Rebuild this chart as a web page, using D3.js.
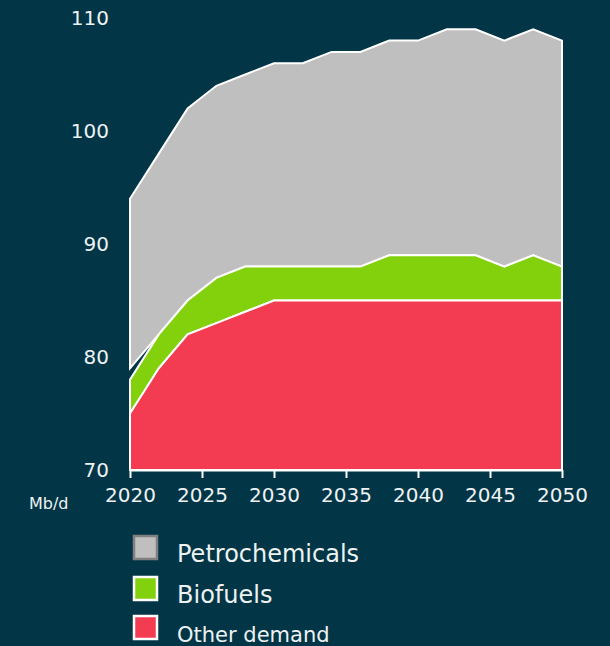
<!DOCTYPE html>
<html>
<head>
<meta charset="utf-8">
<script src="https://cdn.jsdelivr.net/npm/d3@7"></script>
<style>
  html, body { margin: 0; padding: 0; background: #023646; }
  svg { display: block; }
</style>
</head>
<body>
<div id="chart"></div>
<script>
// data (Mb/d), every 2 years
var years = [2020, 2022, 2024, 2026, 2028, 2030, 2032, 2034, 2036, 2038, 2040, 2042, 2044, 2046, 2048, 2050];
var otherDemand    = [75, 79, 82, 83, 84, 85, 85, 85, 85, 85, 85, 85, 85, 85, 85, 85];
var biofuels       = [3, 3, 3, 4, 4, 3, 3, 3, 3, 4, 4, 4, 4, 3, 4, 3];
var petrochemicals = [16, 16, 17, 17, 17, 18, 18, 19, 19, 19, 19, 20, 20, 20, 20, 20];
// petrochemicals band starts a little above biofuels in 2020 (gap in the source chart)
var petroGap       = [1, 0, 0, 0, 0, 0, 0, 0, 0, 0, 0, 0, 0, 0, 0, 0];
var seriesNames  = ["Other demand", "Biofuels", "Petrochemicals"];
var seriesColors = ["#f33c52", "#82d10c", "#bfbfbf"];
var yTicks = [70, 80, 90, 100, 110];
var xTicks = [2020, 2025, 2030, 2035, 2040, 2045, 2050];

var width = 610, height = 646;
var textColor = "#eef2f3";
var font = "DejaVu Sans, Verdana, sans-serif";

var svg = d3.select("#chart").append("svg")
    .attr("width", width)
    .attr("height", height);

var x = d3.scaleLinear().domain([2020, 2050]).range([130, 562]);
var y = d3.scaleLinear().domain([70, 110]).range([470, 18]);

var rows = years.map(function(yr, i) {
    return { year: yr, "Other demand": otherDemand[i] - 70, "Biofuels": biofuels[i], "Petrochemicals": petrochemicals[i] };
});

var layers = d3.stack().keys(seriesNames)(rows);

var area = d3.area()
    .x(function(d) { return x(d.data.year); })
    .y0(function(d) { return y(70 + d[0]); })
    .y1(function(d) { return y(70 + d[1]); });

// draw top layer first so lower ones sit over it
layers.slice().reverse().forEach(function(layer) {
    var i = seriesNames.indexOf(layer.key);
    var pts = layer;
    if (layer.key === "Petrochemicals") {
        pts = layer.map(function(d, j) {
            var p = [d[0] + petroGap[j], d[1]];
            p.data = d.data;
            return p;
        });
    }
    svg.append("path")
        .datum(pts)
        .attr("d", function(d) { return area(d) + "Z"; })
        .attr("fill", seriesColors[i])
        .attr("stroke", "white")
        .attr("stroke-width", 2)
        .attr("stroke-linejoin", "miter");
});

// y labels
svg.selectAll("text.ylab")
    .data(yTicks)
    .enter()
    .append("text")
    .attr("class", "ylab")
    .attr("x", 109)
    .attr("y", function(d) { return y(d); })
    .attr("dy", "0.36em")
    .attr("text-anchor", "end")
    .attr("font-family", font)
    .attr("font-size", "20px")
    .attr("fill", textColor)
    .text(function(d) { return d; });

// x axis
var xAxis = svg.append("g")
    .attr("transform", "translate(0,470)")
    .call(d3.axisBottom(x).tickValues(xTicks).tickFormat(d3.format("d")).tickSize(8).tickSizeOuter(0).tickPadding(10));
xAxis.select(".domain").attr("stroke", "white").attr("stroke-width", 2);
xAxis.selectAll(".tick line").attr("stroke", "white").attr("stroke-width", 2);
xAxis.selectAll(".tick text")
    .attr("fill", textColor)
    .attr("font-family", font)
    .attr("font-size", "20px");

svg.append("text")
    .attr("x", 29)
    .attr("y", 509)
    .attr("font-family", font)
    .attr("font-size", "16px")
    .attr("fill", textColor)
    .text("Mb/d");

// legend
var legendItems = [
    { name: "Petrochemicals", fill: seriesColors[2], stroke: "#808080", size: 24, base: 562 },
    { name: "Biofuels", fill: seriesColors[1], stroke: "white", size: 24, base: 603 },
    { name: "Other demand", fill: seriesColors[0], stroke: "white", size: 21, base: 642 }
];
var lg = svg.selectAll("g.legend")
    .data(legendItems)
    .enter()
    .append("g")
    .attr("class", "legend");
lg.append("rect")
    .attr("x", 134)
    .attr("y", function(d) { return d.base - 26; })
    .attr("width", 23)
    .attr("height", 23)
    .attr("fill", function(d) { return d.fill; })
    .attr("stroke", function(d) { return d.stroke; })
    .attr("stroke-width", 2.5);
lg.append("text")
    .attr("x", 177)
    .attr("y", function(d) { return d.base; })
    .attr("font-family", font)
    .attr("font-size", function(d) { return d.size + "px"; })
    .attr("fill", textColor)
    .text(function(d) { return d.name; });
</script>
</body>
</html>
